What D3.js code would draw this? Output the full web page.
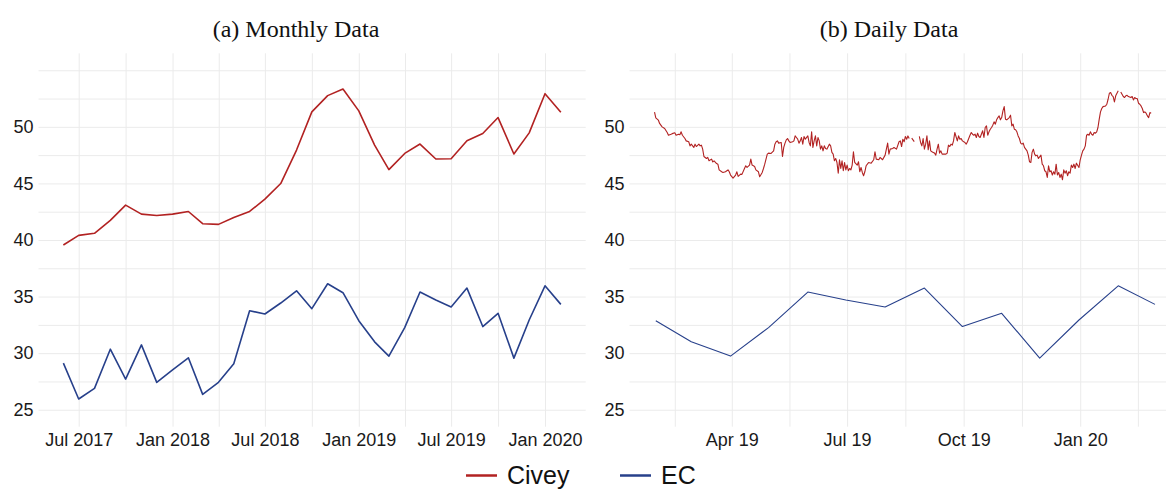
<!DOCTYPE html>
<html>
<head>
<meta charset="utf-8">
<script src="https://cdn.jsdelivr.net/npm/d3@7"></script>
<style>
  body { margin: 0; background: #fff; }
  svg { display: block; font-family: "Liberation Sans", Arial, sans-serif; }
  .grid line { stroke: #ebebeb; stroke-width: 1; }
  .grid path { display: none; }
  .axis path, .axis line { display: none; }
  .axis text { font-size: 18px; fill: #1a1a1a; }
  .title { font-family: "Liberation Serif", "Times New Roman", serif; font-size: 24px; fill: #111; }
  .legend text { font-size: 25px; fill: #111; }
</style>
</head>
<body>
<div id="chart"></div>
<script>
// Datos mensuales (Jun 2017 - Feb 2020)
const months = ["2017-06","2017-07","2017-08","2017-09","2017-10","2017-11","2017-12",
  "2018-01","2018-02","2018-03","2018-04","2018-05","2018-06","2018-07","2018-08","2018-09","2018-10","2018-11","2018-12",
  "2019-01","2019-02","2019-03","2019-04","2019-05","2019-06","2019-07","2019-08","2019-09","2019-10","2019-11","2019-12",
  "2020-01","2020-02"];
const civeyMonthly = [39.56, 40.41, 40.59, 41.73, 43.08, 42.29, 42.17,
  42.29, 42.52, 41.44, 41.38, 41.99, 42.52, 43.61, 44.99, 47.95, 51.32, 52.76, 53.34,
  51.41, 48.39, 46.22, 47.65, 48.48, 47.16, 47.18, 48.77, 49.41, 50.82, 47.60, 49.47,
  52.93, 51.29];
const ecMonthly = [29.12, 25.95, 26.89, 30.35, 27.71, 30.73, 27.42,
  28.53, 29.59, 26.36, 27.42, 29.06, 33.75, 33.46, 34.43, 35.51, 33.93, 36.13, 35.34,
  32.87, 31.00, 29.74, 32.26, 35.40, 34.70, 34.08, 35.75, 32.35, 33.52, 29.56, 32.93,
  35.95, 34.31];

// Datos diarios de Civey: [días desde dailyStart, valor]; null = sin dato
const dailyStart = "2019-01-31";
const civeyDaily = [
  [-1,51.3],[0,50.8],[2,50.6],[3,50.3],[5,50.0],[7,49.85],[9,49.5],[10,49.26],[12,49.35],[13,49.4],
  [15,49.47],[16,49.26],[18,49.35],[19,49.3],[20,49.56],[21,49.26],[23,48.97],[24,48.76],[26,48.68],[27,48.32],
  [28,48.47],[30,48.18],[31,48.47],[32,48.26],[34,48.47],[35,48.32],[36,48.38],[37,48.03],[38,47.38],[40,47.2],
  [41,47.3],[42,47.0],[44,47.15],[45,46.9],[46,47.0],[48,46.76],[49,46.7],[50,46.2],[52,46.03],[53,45.97],
  [55,46.03],[57,46.2],[58,46.03],[59,45.74],[61,45.47],[63,45.74],[64,46.03],[65,45.62],[67,45.82],[68,45.8],
  [70,46.32],[71,46.56],[72,46.41],[74,46.62],[75,47.15],[76,46.62],[78,46.5],[79,46.2],[81,46.03],[82,45.59],
  [84,45.97],[85,46.32],[86,46.7],[88,47.59],[89,47.68],[91,47.65],[93,47.88],
  [94,48.47],[95,48.68],[96,48.76],[97,48.56],[99,48.62],[100,47.38],[101,48.18],[102,48.56],[103,48.85],[104,48.97],
  [105,48.76],[106,48.62],[108,48.68],[109,48.76],[110,49.2],[111,49.06],[112,48.91],[113,48.56],[114,48.76],[115,49.06],
  [116,48.47],[117,49.15],[118,48.91],[120,49.2],[121,48.62],[122,48.32],[123,49.56],[124,48.18],[125,48.76],[126,49.2],
  [127,48.32],[128,49.06],[129,48.76],[130,48.03],[131,48.32],[132,47.88],[133,48.32],[134,48.09],[135,48.03],[137,48.47],
  [138,48.32],[139,47.74],[140,47.59],[141,47.0],[142,47.2],[143,46.85],[144,45.91],[145,47.09],[146,46.32],[147,47.0],
  [148,46.12],[149,46.85],[150,46.2],[151,46.62],[152,46.12],[153,46.32],[154,46.2],[155,46.62],[156,47.8],[157,46.85],
  [159,46.62],[160,46.91],[161,46.03],[162,46.41],[163,45.97],[164,45.68],[165,46.03],[166,46.56],[167,46.7],[168,46.85],
  [170,46.79],[172,47.09],[173,47.8],[174,47.15],[176,47.09],[177,47.3],[179,47.09],[181,47.5],[182,48.03],[183,48.56],
  [184,47.59],[185,48.03],[187,48.09],[188,48.18],[190,48.03],[192,48.68],[193,48.76],
  [194,48.26],[195,48.91],[196,48.68],[197,49.15],[198,48.91],[199,49.2],[200,48.97],[201,null],[202,49.0],[203,48.85],
  [204,48.7],[205,null],[208,49.15],[209,48.62],[210,48.32],[211,48.97],[212,48.03],[213,48.47],[214,49.2],[215,47.97],
  [216,48.76],[217,47.88],[218,47.8],[219,47.74],[220,47.68],[221,47.5],[222,48.03],[223,48.47],[224,47.68],[225,47.88],
  [226,47.59],[227,47.59],[229,47.59],[230,47.68],[231,48.38],[232,48.26],[233,48.47],[234,48.38],[235,48.76],[236,49.5],
  [238,48.76],[239,49.2],[240,48.91],[241,48.97],[242,48.76],[244,48.62],[245,48.47],[246,48.68],[247,48.97],[248,49.26],
  [249,49.5],[250,49.35],[251,49.26],[252,49.35],[253,49.06],[254,49.44],[255,49.15],[256,49.06],[258,49.65],[259,49.06],
  [260,49.94],[261,50.09],[262,49.26],[263,49.56],[264,49.79],[265,49.94],[266,50.15],[267,50.44],[268,50.24],[269,50.62],
  [270,50.82],[271,50.97],[272,50.62],[273,50.82],[274,51.41],[275,51.79],[276,50.68],[277,50.62],[279,50.82],[280,51.03],
  [281,50.09],[282,50.24],[283,49.79],[284,49.74],[285,49.56],[286,49.2],[287,48.97],[288,48.56],[289,48.47],[290,48.56],
  [291,48.18],
  [292,48.03],[293,47.88],[294,47.5],[295,46.91],[296,46.85],[297,47.74],[298,48.03],[299,47.59],[300,47.44],[301,47.5],
  [302,47.2],[304,47.5],[305,46.7],[306,46.56],[307,46.12],[308,46.03],[309,45.53],[310,46.56],[311,46.03],[312,46.12],
  [313,45.74],[314,46.03],[315,45.82],[316,46.7],[317,45.74],[318,45.97],[319,45.53],[320,45.82],[321,45.32],[322,46.2],
  [323,45.91],[324,46.12],[325,45.68],[326,46.03],[327,45.91],[328,46.62],[329,46.41],[330,46.7],[331,46.32],[332,46.79],
  [334,46.41],[335,47.09],[336,47.5],[337,47.88],[338,48.03],[339,48.32],[340,49.26],[341,49.35],[342,49.26],[343,49.56],
  [344,49.35],[345,49.26],[346,49.5],[347,49.44],[348,49.56],[349,49.94],[350,50.68],[351,51.32],[352,51.62],[353,51.79],
  [355,51.85],[356,52.0],[357,52.44],[358,52.97],[359,53.03],[360,52.79],[361,52.68],[362,52.21],[363,52.74],[364,52.97],
  [365,53.18],[366,null],[367,53.09],[368,52.88],[369,52.68],[370,52.59],[371,52.74],[372,52.79],[373,52.68],[375,52.59],
  [376,52.68],[377,52.38],[378,52.59],[379,52.5],[380,52.5],[381,52.09],[382,52.0],[383,51.85],[384,51.62],[385,51.26],
  [386,51.32],[387,51.21],[388,50.97],[389,50.82],[390,51.26],[391,51.21]
];

// Ejes
const yTicks = [25, 30, 35, 40, 45, 50];
const yGrid = [25, 27.5, 30, 32.5, 35, 37.5, 40, 42.5, 45, 47.5, 50, 52.5, 55];
const yLimits = [25, 55];
const leftTicks = ["2017-07-01","2018-01-01","2018-07-01","2019-01-01","2019-07-01","2020-01-01"];
const rightTicks = ["2019-04-01","2019-07-01","2019-10-01","2020-01-01"];
const titles = ["(a) Monthly Data", "(b) Daily Data"];
const seriesNames = ["Civey", "EC"];
const colors = { Civey: "#b22222", EC: "#27408b" };

const width = 1166, height = 490;
const plotTop = 53.3, plotBottom = 426.7;
const parse = d3.timeParse("%Y-%m-%d");
const monthDates = months.map(m => parse(m + "-01"));
const day0 = parse(dailyStart);

const svg = d3.select("#chart").append("svg")
  .attr("width", width).attr("height", height);

// Escala y compartida (expansión 5% como ggplot)
const ySpan = yLimits[1] - yLimits[0];
const y = d3.scaleLinear()
  .domain([yLimits[0] - 0.05 * ySpan, yLimits[1] + 0.05 * ySpan])
  .range([plotBottom, plotTop]);

function expand(d0, d1) {
  const pad = (d1 - d0) * 0.05;
  return [new Date(+d0 - pad), new Date(+d1 + pad)];
}

// Rejilla menor: puntos medios entre marcas principales
function withMinor(majors) {
  const out = [];
  majors.forEach((m, i) => {
    out.push(m);
    if (i < majors.length - 1) out.push(new Date((+m + +majors[i + 1]) / 2));
  });
  return out;
}

function panel(opts) {
  const x = d3.scaleTime().domain(opts.domain).range(opts.range);
  const g = svg.append("g");
  const [x0, x1] = opts.range;

  // rejilla vertical
  const dom = x.domain();
  const gridDates = withMinor(opts.gridMajors).filter(d => d >= dom[0] && d <= dom[1]);
  g.append("g").attr("class", "grid")
    .attr("transform", `translate(0,${plotBottom})`)
    .call(d3.axisBottom(x).tickValues(gridDates).tickSize(-(plotBottom - plotTop)).tickFormat(""));

  // rejilla horizontal
  g.append("g").attr("class", "grid")
    .attr("transform", `translate(${x0},0)`)
    .call(d3.axisLeft(y).tickValues(yGrid).tickSize(-(x1 - x0)).tickFormat(""));

  // ejes
  g.append("g").attr("class", "axis")
    .attr("transform", `translate(0,${plotBottom})`)
    .call(d3.axisBottom(x).tickValues(opts.ticks.map(parse)).tickSize(0).tickPadding(7)
      .tickFormat(d3.timeFormat(opts.fmt)));
  g.append("g").attr("class", "axis")
    .attr("transform", `translate(${x0},0)`)
    .call(d3.axisLeft(y).tickValues(yTicks).tickSize(0).tickPadding(5));

  // título
  svg.append("text").attr("class", "title")
    .attr("x", opts.titleX).attr("y", 37)
    .attr("text-anchor", "middle").text(opts.title);

  opts.series.forEach(s => {
    const line = d3.line()
      .defined(d => d.v != null)
      .x(d => x(d.date)).y(d => y(d.v));
    g.append("path").datum(s.data)
      .attr("fill", "none")
      .attr("stroke", colors[s.name])
      .attr("stroke-width", s.w)
      .attr("stroke-linejoin", "round")
      .attr("d", line);
  });
}

// Panel (a): mensual
panel({
  domain: expand(monthDates[0], monthDates[monthDates.length - 1]),
  range: [38.5, 585.7],
  gridMajors: d3.range(2017, 2021).flatMap(yr => [new Date(yr, 0, 1), new Date(yr, 6, 1)]),
  ticks: leftTicks,
  fmt: "%b %Y",
  title: titles[0],
  titleX: 296,
  series: [
    { name: "Civey", w: 1.6, data: monthDates.map((d, i) => ({ date: d, v: civeyMonthly[i] })) },
    { name: "EC", w: 1.6, data: monthDates.map((d, i) => ({ date: d, v: ecMonthly[i] })) }
  ]
});

// Panel (b): diario; EC al final de cada mes desde ene 2019
const firstEC = months.indexOf("2019-01");
const ecDaily = monthDates.slice(firstEC).map((d, i) => ({
  date: d3.timeDay.offset(d3.timeMonth.offset(d, 1), -1),
  v: ecMonthly[firstEC + i]
}));
const civeyDailyPts = civeyDaily.map(([k, v]) => ({ date: d3.timeDay.offset(day0, k), v: v }));
const dailyExtent = [civeyDailyPts[0].date, ecDaily[ecDaily.length - 1].date];

panel({
  domain: expand(dailyExtent[0], dailyExtent[1]),
  range: [629.5, 1180],
  gridMajors: d3.range(2019, 2021).flatMap(yr => [0, 3, 6, 9].map(m => new Date(yr, m, 1))),
  ticks: rightTicks,
  fmt: "%b %y",
  title: titles[1],
  titleX: 889,
  series: [
    { name: "Civey", w: 1.1, data: civeyDailyPts },
    { name: "EC", w: 1.1, data: ecDaily }
  ]
});

// Leyenda
const legend = svg.append("g").attr("class", "legend");
const legendPos = [{ x: 466 }, { x: 620 }];
seriesNames.forEach((name, i) => {
  const lx = legendPos[i].x;
  legend.append("line")
    .attr("x1", lx).attr("x2", lx + 31)
    .attr("y1", 475.5).attr("y2", 475.5)
    .attr("stroke", colors[name]).attr("stroke-width", 2.5);
  legend.append("text")
    .attr("x", lx + 41).attr("y", 484)
    .text(name);
});
</script>
</body>
</html>
